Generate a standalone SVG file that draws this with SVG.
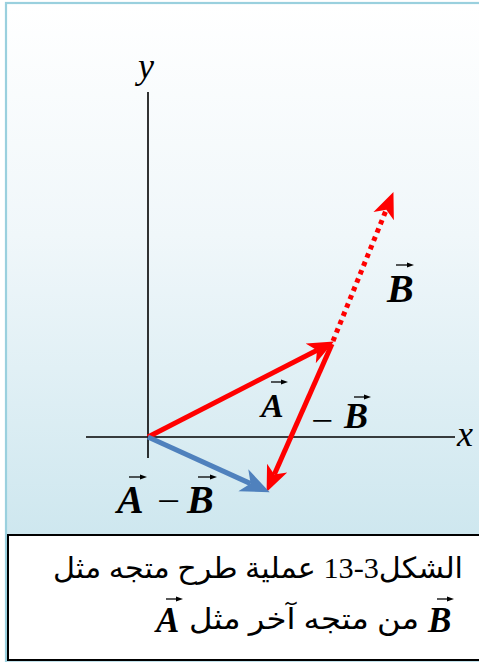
<svg xmlns="http://www.w3.org/2000/svg" width="479" height="662" viewBox="0 0 479 662">
<defs>
<linearGradient id="bg" x1="0" y1="0" x2="0" y2="1">
<stop offset="0" stop-color="#ffffff"/>
<stop offset="0.35" stop-color="#f0f7fa"/>
<stop offset="1" stop-color="#bfe0ea"/>
</linearGradient>
<marker id="hr" markerUnits="userSpaceOnUse" markerWidth="27" markerHeight="24" refX="7" refY="12" orient="auto">
<path d="M0,1 L26,12 L0,23 L7,12 Z" fill="#ff0000"/>
</marker>
<marker id="hb" markerUnits="userSpaceOnUse" markerWidth="30" markerHeight="26" refX="8" refY="13" orient="auto">
<path d="M0,1 L29,13 L0,25 L8,13 Z" fill="#4f81bd"/>
</marker>
<marker id="hs" markerUnits="userSpaceOnUse" markerWidth="8" markerHeight="6" refX="1" refY="3" orient="auto">
<path d="M0,0.5 L7,3 L0,5.5 Z" fill="#000"/>
</marker>
<style>
.axis{stroke:#000;stroke-width:1.6;fill:none}
.red{stroke:#ff0000;stroke-width:5;fill:none;marker-end:url(#hr)}
.dot{stroke-dasharray:4.5 4.5}
.blue{stroke:#4f81bd;stroke-width:5;fill:none;marker-end:url(#hb)}
.ov{stroke:#000;stroke-width:1.3;marker-end:url(#hs)}
.ax{font-family:'Liberation Serif','Times New Roman','DejaVu Serif',serif;font-style:italic;font-size:36px;fill:#000}
.vec{font-family:'Liberation Serif','Times New Roman','DejaVu Serif',serif;font-style:italic;font-weight:bold;fill:#000}
.op{font-family:'Liberation Serif','Times New Roman','DejaVu Serif',serif;fill:#000}
.cap{font-family:'Liberation Serif','Times New Roman','DejaVu Sans',serif;font-size:29px;fill:#000}
</style>
</defs>
<rect x="0" y="0" width="479" height="662" fill="#ffffff"/>
<rect x="6" y="3" width="480" height="665" fill="url(#bg)" stroke="#9ad0de" stroke-width="2.2"/>

<g id="axes">
<line class="axis" x1="148" y1="92" x2="148" y2="458"/>
<line class="axis" x1="86" y1="437" x2="455" y2="437"/>
<text class="ax" x="138" y="78">y</text>
<text class="ax" x="457" y="446">x</text>
</g>

<g id="connectors">
<line id="vecA" class="red" x1="148" y1="437" x2="317" y2="350.2"/>
<line id="vecB" class="red dot" x1="333" y1="341" x2="386.3" y2="209.7"/>
<line id="vecNegB" class="red" x1="332" y1="344" x2="274.3" y2="474.5"/>
<line id="vecAminusB" class="blue" x1="148" y1="437" x2="250.6" y2="483.6"/>
</g>

<g id="label-A">
<text class="vec" x="261" y="417" font-size="34">A</text>
<line class="ov" x1="271" y1="382" x2="282" y2="382"/>
</g>
<g id="label-negB">
<text class="op" x="311" y="432" font-size="34" textLength="22" lengthAdjust="spacingAndGlyphs">−</text>
<text class="vec" x="344" y="428" font-size="36">B</text>
<line class="ov" x1="354" y1="397" x2="365" y2="397"/>
</g>
<g id="label-B">
<text class="vec" x="387" y="302" font-size="40">B</text>
<line class="ov" x1="396" y1="265" x2="408" y2="265"/>
</g>
<g id="label-AminusB">
<text class="vec" x="117" y="513" font-size="40">A</text>
<line class="ov" x1="129" y1="477" x2="141" y2="477"/>
<text class="op" x="157" y="513" font-size="36" textLength="23" lengthAdjust="spacingAndGlyphs">−</text>
<text class="vec" x="187" y="513" font-size="40">B</text>
<line class="ov" x1="198" y1="477" x2="211" y2="477"/>
</g>

<g id="caption">
<rect x="8" y="535" width="480" height="125" fill="#ffffff" stroke="#000" stroke-width="2"/>
<text class="cap" x="463" y="578" direction="rtl" text-anchor="start" textLength="410" lengthAdjust="spacingAndGlyphs">الشكل3-13 عملية طرح متجه مثل</text>
<text class="vec" x="428" y="632" font-size="35">B</text>
<line class="ov" x1="437" y1="599" x2="448" y2="599"/>
<text class="cap" x="419" y="629" direction="rtl" text-anchor="start" textLength="230" lengthAdjust="spacingAndGlyphs">من متجه آخر مثل</text>
<text class="vec" x="156" y="632" font-size="35">A</text>
<line class="ov" x1="166" y1="599" x2="177" y2="599"/>
</g>
</svg>
